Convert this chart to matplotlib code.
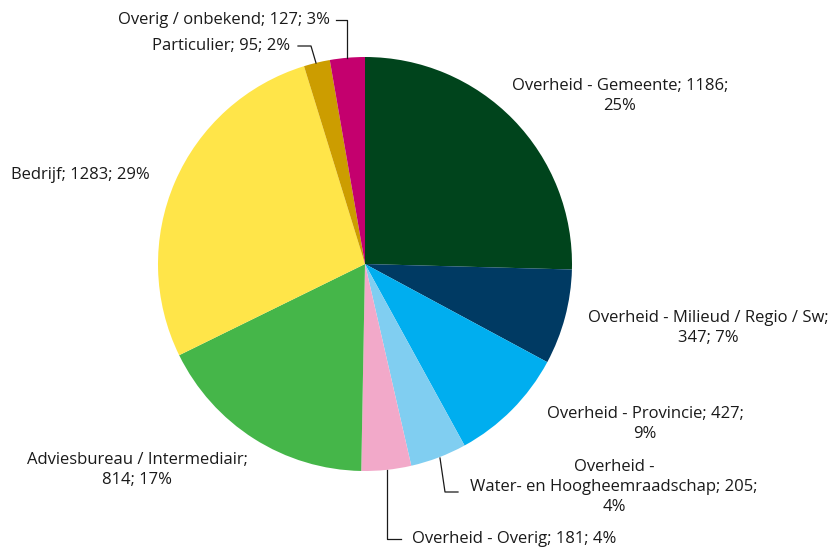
import matplotlib
matplotlib.use('Agg')
import matplotlib.pyplot as plt

# data
categorieen = ['Overheid - Gemeente', 'Overheid - Milieud / Regio / Sw', 'Overheid - Provincie',
               'Overheid - Water- en Hoogheemraadschap', 'Overheid - Overig',
               'Adviesbureau / Intermediair', 'Bedrijf', 'Particulier', 'Overig / onbekend']
aantallen = [1186, 347, 427, 205, 181, 814, 1283, 95, 127]
percentages = [25, 7, 9, 4, 4, 17, 29, 2, 3]
labels = [
    'Overheid - Gemeente; 1186;\n25%',
    'Overheid - Milieud / Regio / Sw;\n347; 7%',
    'Overheid - Provincie; 427;\n9%',
    'Overheid -\nWater- en Hoogheemraadschap; 205;\n4%',
    'Overheid - Overig; 181; 4%',
    'Adviesbureau / Intermediair;\n814; 17%',
    'Bedrijf; 1283; 29%',
    'Particulier; 95; 2%',
    'Overig / onbekend; 127; 3%',
]
kleuren = ['#00441C', '#003A63', '#00AEEF', '#80CEF1', '#F2A9C9',
           '#45B649', '#FFE549', '#CC9D00', '#C4006E']

plt.rcParams['font.family'] = ['Open Sans', 'DejaVu Sans']

W, H = 834, 551
fig = plt.figure(figsize=(W / 100, H / 100), dpi=100)
ax = fig.add_axes([0, 0, 1, 1])

def py(y):
    return H - y

ax.pie(aantallen, colors=kleuren, startangle=90, counterclock=False,
       center=(365, py(264)), radius=207, frame=True,
       wedgeprops=dict(linewidth=0))
ax.set_xlim(0, W)
ax.set_ylim(0, H)
ax.set_aspect('auto')
ax.axis('off')

fs = 12
# label posities (pixels), uitlijning
posities = [
    (620, 96, 'center'),
    (708, 328, 'center'),
    (645, 424, 'center'),
    (614, 487, 'center'),
    (412, 539, 'left'),
    (137, 470, 'center'),
    (11, 175, 'left'),
    (290, 46, 'right'),
    (330, 20, 'right'),
]
for lab, (x, y, ha) in zip(labels, posities):
    ax.text(x, py(y), lab, ha=ha, va='center', fontsize=fs, color='#1a1a1a',
            multialignment='center', linespacing=1.32)

# hulplijnen
lijnen = [
    [(336, 20), (347, 20), (347, 58)],
    [(298, 46), (311, 46), (316, 63)],
    [(440, 458), (445, 492), (458, 492)],
    [(387, 470), (387, 539), (401, 539)],
]
for lijn in lijnen:
    xs = [p[0] for p in lijn]
    ys = [py(p[1]) for p in lijn]
    ax.plot(xs, ys, color='#1a1a1a', linewidth=0.9)

fig.savefig('out.png', dpi=100)
